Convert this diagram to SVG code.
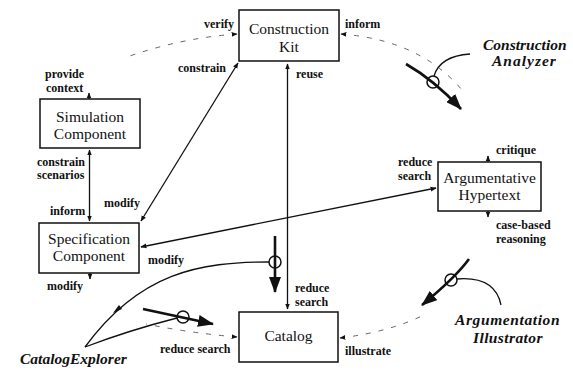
<svg xmlns="http://www.w3.org/2000/svg" width="573" height="376" viewBox="0 0 573 376">
<style>
.box{fill:#fff;stroke:#111;stroke-width:1.5}
.bt{font-family:"Liberation Serif",serif;font-size:15.5px;fill:#111;text-anchor:middle}
.lb{font-family:"Liberation Serif",serif;font-size:12px;font-weight:bold;fill:#111}
.ag{font-family:"Liberation Serif",serif;font-size:15.5px;font-weight:bold;font-style:italic;fill:#111}
.ln{fill:none;stroke:#111;stroke-width:1.3}
.dash{fill:none;stroke:#666;stroke-width:1;stroke-dasharray:5 8}
.thick{fill:none;stroke:#111;stroke-width:2.6}
.ring{fill:none;stroke:#111;stroke-width:1.5}
</style>
<defs>
<marker id="a" viewBox="0 0 10 10" refX="9" refY="5" markerWidth="6" markerHeight="6" markerUnits="userSpaceOnUse" orient="auto-start-reverse"><path d="M0,1 L10,5 L0,9 z" fill="#111"/></marker>
<marker id="big" viewBox="0 0 16 12" refX="15" refY="6" markerWidth="16" markerHeight="12" markerUnits="userSpaceOnUse" orient="auto"><path d="M0,0 L16,6 L0,12 z" fill="#111"/></marker>
</defs>
<rect width="573" height="376" fill="#fff"/>

<g id="connectors">
<path class="ln" d="M287.5 309 L287.5 64" marker-start="url(#a)" marker-end="url(#a)"/>
<path class="ln" d="M141 221 L238 63" marker-start="url(#a)" marker-end="url(#a)"/>
<path class="ln" d="M89.5 221 L89.5 150" marker-start="url(#a)" marker-end="url(#a)"/>
<path class="ln" d="M141 247 L436 188" marker-start="url(#a)" marker-end="url(#a)"/>
<path class="ln" d="M89 93 L89 99" marker-start="url(#a)"/>
<path class="ln" d="M90 279 L90 273" marker-start="url(#a)"/>
<path class="ln" d="M488 156 L488 162" marker-start="url(#a)"/>
<path class="ln" d="M488 217 L488 211" marker-start="url(#a)"/>
<path class="dash" d="M237 34 Q180 38 124 58" marker-start="url(#a)"/>
<path class="dash" d="M341 34 Q420 40 462 90" marker-start="url(#a)"/>
<path class="dash" d="M340 338 Q390 332 426 314" marker-start="url(#a)"/>
<path class="dash" d="M237 337 Q190 333 146 324" marker-start="url(#a)"/>
</g>

<g id="construction-analyzer">
<path class="thick" d="M406 64 Q434 80 461 109" marker-end="url(#big)"/>
<circle class="ring" cx="433" cy="82" r="6"/>
<path class="ln" d="M434 76 Q440 56 470 54"/>
<text class="ag" x="483" y="50">Construction</text>
<text class="ag" x="492" y="66" letter-spacing="1">Analyzer</text>
</g>

<g id="argumentation-illustrator">
<path class="thick" d="M469 259 Q455 278 422 305" marker-end="url(#big)"/>
<circle class="ring" cx="451" cy="280" r="6"/>
<path class="ln" d="M457 279 Q495 276 501 305"/>
<text class="ag" x="455" y="325" letter-spacing="0.6">Argumentation</text>
<text class="ag" x="473" y="343" letter-spacing="0.4">Illustrator</text>
</g>

<g id="catalog-explorer">
<path class="thick" d="M275 236 L275 292" marker-end="url(#big)"/>
<circle class="ring" cx="275" cy="262" r="6"/>
<path class="ln" d="M269 262 C200 262 140 272 85 347"/>
<path d="M119 305 L113 313 L122 309 z" fill="#111"/>
<path class="ln" d="M85 347 Q130 330 177 318"/>
<path class="thick" d="M143 309 L213 324" marker-end="url(#big)"/>
<circle class="ring" cx="183" cy="317" r="6"/>
<text class="ag" x="20" y="364">CatalogExplorer</text>
</g>

<g id="construction-kit">
<rect class="box" x="239" y="10" width="100" height="51"/>
<text class="bt" x="289" y="34">Construction</text>
<text class="bt" x="289" y="52">Kit</text>
</g>

<g id="simulation-component">
<rect class="box" x="40" y="99" width="100" height="49"/>
<text class="bt" x="90" y="122">Simulation</text>
<text class="bt" x="90" y="139">Component</text>
</g>

<g id="specification-component">
<rect class="box" x="39" y="223" width="100" height="50"/>
<text class="bt" x="89" y="244">Specification</text>
<text class="bt" x="89" y="261">Component</text>
</g>

<g id="catalog">
<rect class="box" x="239" y="312" width="99" height="50"/>
<text class="bt" x="288.5" y="341">Catalog</text>
</g>

<g id="argumentative-hypertext">
<rect class="box" x="438" y="162" width="103" height="49"/>
<text class="bt" x="489.5" y="183">Argumentative</text>
<text class="bt" x="489.5" y="200">Hypertext</text>
</g>

<g id="labels">
<text class="lb" x="234" y="28" text-anchor="end">verify</text>
<text class="lb" x="345" y="28">inform</text>
<text class="lb" x="226" y="72" text-anchor="end">constrain</text>
<text class="lb" x="296" y="78">reuse</text>
<text class="lb" x="45" y="78">provide</text>
<text class="lb" x="46" y="92">context</text>
<text class="lb" x="37" y="166">constrain</text>
<text class="lb" x="37" y="179">scenarios</text>
<text class="lb" x="50" y="215">inform</text>
<text class="lb" x="104" y="207">modify</text>
<text class="lb" x="148" y="264">modify</text>
<text class="lb" x="47" y="290">modify</text>
<text class="lb" x="160" y="353">reduce search</text>
<text class="lb" x="295" y="292">reduce</text>
<text class="lb" x="295" y="306">search</text>
<text class="lb" x="345" y="355">illustrate</text>
<text class="lb" x="398" y="166">reduce</text>
<text class="lb" x="398" y="180">search</text>
<text class="lb" x="496" y="154">critique</text>
<text class="lb" x="496" y="229">case-based</text>
<text class="lb" x="496" y="243">reasoning</text>
</g>
</svg>
